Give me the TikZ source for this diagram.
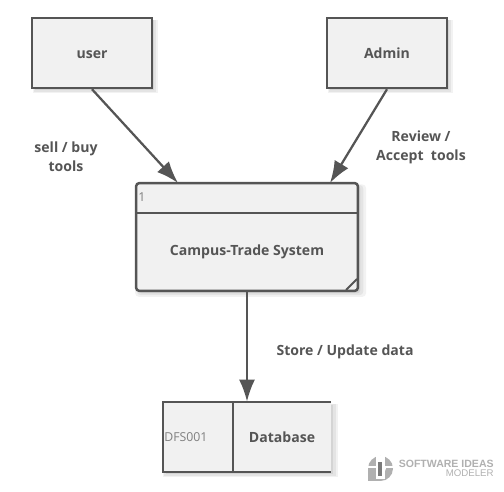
\documentclass[tikz,border=0pt]{standalone}
\usepackage{xcolor}
\usepackage{fontspec}
\setmainfont{Open Sans}
\newfontfamily\logofont{Liberation Sans}
\usetikzlibrary{arrows.meta, positioning, shadows, calc}
\definecolor{dfdline}{HTML}{555555}
\definecolor{dfdfill}{HTML}{F1F1F1}
\definecolor{dfdmuted}{HTML}{808080}
\definecolor{dfdlogo}{HTML}{B0B0B0}
\tikzset{
  softshadow/.style={
    drop shadow={shadow xshift=0.07cm,shadow yshift=-0.07cm,shadow scale=1.04,opacity=0.05,fill=black},
    drop shadow={shadow xshift=0.06cm,shadow yshift=-0.06cm,shadow scale=1.02,opacity=0.06,fill=black},
    drop shadow={shadow xshift=0.05cm,shadow yshift=-0.05cm,opacity=0.07,fill=black}},
  entitybox/.style={draw=dfdline,line width=0.05cm,fill=dfdfill,softshadow,minimum width=2.4cm,minimum height=1.4cm,inner sep=0pt,text height=5.8pt,text depth=0pt},
  flowline/.style={draw=dfdline,line width=0.045cm,-{Latex[length=0.44cm,width=0.32cm]}},
  boxtext/.style={font=\bfseries\fontsize{8}{10.9}\selectfont,text=dfdline},
  flowtext/.style={boxtext,align=center},
  idtext/.style={font=\fontsize{7}{8}\selectfont,text=dfdmuted}
}
\begin{document}
\begin{tikzpicture}[x=0.02cm,y=-0.02cm]
  \useasboundingbox (0,0) rectangle (504,492);
  % external entities
  \node[entitybox,boxtext] (user) at (92,53) {user};
  \node[entitybox,boxtext] (admin) at (387,53) {Admin};
  % process
  \node[entitybox,boxtext,rounded corners=0.07cm,minimum width=4.44cm,minimum height=2.16cm] (system) at (247,237) {};
  \node[boxtext] (systemname) at (247,252) {Campus-Trade System};
  \coordinate (systemtopl) at (136,213);
  \coordinate (systemtopr) at (358,213);
  \draw[dfdline,line width=0.05cm] (systemtopl) -- (systemtopr);
  \node[idtext,anchor=west,inner sep=0pt] (systemid) at (138,197) {1};
  \coordinate (cornera) at (346,290);
  \coordinate (cornerb) at (357,279);
  \draw[dfdline,line width=0.04cm] (cornera) -- (cornerb);
  % data store
  \node[fill=dfdfill,softshadow,minimum width=3.36cm,minimum height=1.4cm,inner sep=0pt] (store) at (247,437) {};
  \coordinate (storetl) at (163,402);
  \coordinate (storebl) at (163,472);
  \coordinate (storetr) at (331,402);
  \coordinate (storebr) at (331,472);
  \coordinate (storetm) at (233,402);
  \coordinate (storebm) at (233,472);
  \draw[dfdline,line width=0.05cm] (storetr) -- (storetl) -- (storebl) -- (storebr);
  \draw[dfdline,line width=0.05cm] (storetm) -- (storebm);
  \node[idtext,anchor=west,inner sep=0pt] (storeid) at (164,437) {DFS001};
  \node[boxtext] (storename) at (282,437) {Database};
  % flows
  \coordinate (userin) at (178,183);
  \coordinate (adminin) at (330,183);
  \draw[flowline] (user.south) -- (userin);
  \draw[flowline] (admin.south) -- (adminin);
  \draw[flowline] (system.south) -- (store.north);
  \node[flowtext] (selllabel) at (66,157) {sell / buy\\tools};
  \node[flowtext] (reviewlabel) at (421,147) {Review /\\Accept\ \ tools};
  \node[boxtext] (storelabel) at (345,352) {Store / Update data};
  % logo
  \fill[dfdlogo] (380.5,468.5) circle (12.5);
  \fill[white] (380.5,468.5) circle (5.5);
  \fill[white] (368,466.5) rectangle (393,468.5);
  \fill[dfdlogo] (368,468.5) rectangle (380,481);
  \fill[white] (376,456) rectangle (385,479);
  \fill[dfdlogo!70!black] (378,462) rectangle (382,476);
  \node[font=\logofont\bfseries\fontsize{6}{6}\selectfont,text=dfdlogo,anchor=east,inner sep=0pt] (logotop) at (494,464) {SOFTWARE IDEAS};
  \node[font=\logofont\fontsize{5.5}{6}\selectfont,text=dfdlogo,anchor=east,inner sep=0pt] (logobottom) at (494,473) {MODELER};
\end{tikzpicture}
\end{document}
